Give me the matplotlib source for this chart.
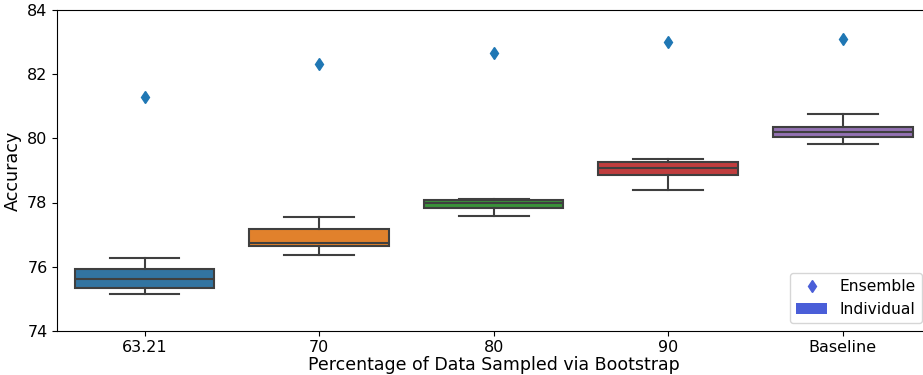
import matplotlib.pyplot as plt
from matplotlib.lines import Line2D
from matplotlib.patches import Patch

# Percentages of data drawn per bootstrap sample
groups = ["63.21", "70", "80", "90", "Baseline"]

# Spread of the individual model accuracies
whis_lo = [75.14, 76.36, 77.59, 78.39, 79.83]
q1 = [75.33, 76.64, 77.84, 78.86, 80.05]
median = [75.60, 76.74, 77.98, 79.07, 80.20]
q3 = [75.93, 77.16, 78.07, 79.27, 80.35]
whis_hi = [76.27, 77.56, 78.10, 79.36, 80.77]

# Accuracy of the combined ensemble
ensemble = [81.30, 82.32, 82.66, 83.00, 83.11]

box_colors = ["#3274a1", "#e1812c", "#3a923a", "#c03d3e", "#9372b2"]
line_gray = "#3f3f3f"

fig = plt.figure(figsize=(9.23, 3.75), dpi=100)
ax = fig.add_axes([0.062, 0.118, 1.0076 - 0.062, 0.973 - 0.118])

stats = []
for i, g in enumerate(groups):
    stats.append({"label": g, "whislo": whis_lo[i], "q1": q1[i], "med": median[i],
                  "q3": q3[i], "whishi": whis_hi[i], "fliers": []})

positions = list(range(len(groups)))
bp = ax.bxp(stats, positions=positions, widths=0.8, capwidths=0.4,
            patch_artist=True, showfliers=False,
            boxprops=dict(edgecolor=line_gray, linewidth=1.5),
            medianprops=dict(color=line_gray, linewidth=1.5),
            whiskerprops=dict(color=line_gray, linewidth=1.5),
            capprops=dict(color=line_gray, linewidth=1.5))
for patch, c in zip(bp["boxes"], box_colors):
    patch.set_facecolor(c)

ax.plot(positions, ensemble, linestyle="none", marker="d", color="#1f77b4",
        markersize=6, zorder=3)

ax.set_xlim(-0.5, 4.5)
ax.set_ylim(74, 84)
ax.set_yticks([74, 76, 78, 80, 82, 84])
ax.set_xticks(positions)
ax.set_xticklabels(groups)
ax.tick_params(labelsize=11.5)
ax.set_xlabel("Percentage of Data Sampled via Bootstrap", fontsize=12.5, labelpad=0.5)
ax.set_ylabel("Accuracy", fontsize=12.6, labelpad=4)

handles = [Line2D([], [], linestyle="none", marker="d", color="#4a5ed8", markersize=6),
           Patch(facecolor="#4a5ed8")]
ax.legend(handles, ["Ensemble", "Individual"], loc="lower right", fontsize=11.2,
          borderaxespad=0.5)

fig.savefig("out.png", dpi=100)
